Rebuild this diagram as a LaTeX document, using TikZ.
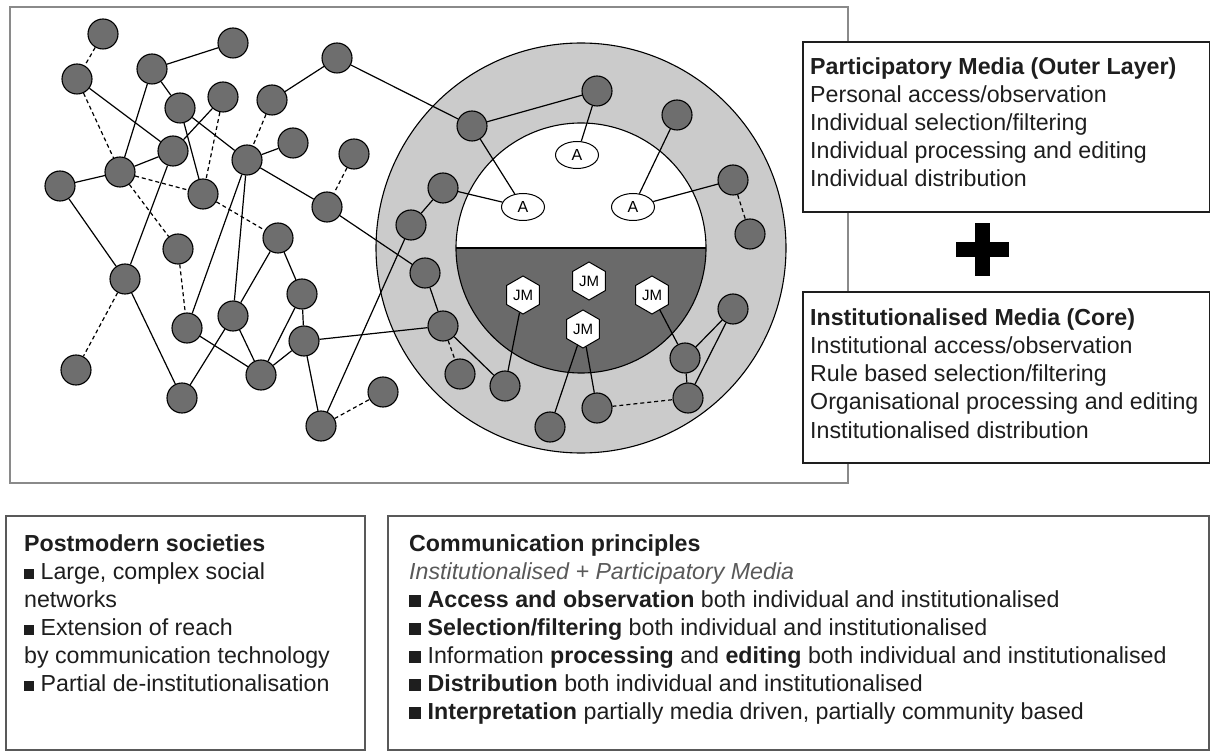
\documentclass[tikz,border=0pt]{standalone}
\usepackage{fontspec}
\setmainfont{Liberation Sans}
\usetikzlibrary{shapes.geometric}
\pgfdeclarelayer{back}
\pgfdeclarelayer{links}
\pgfsetlayers{back,links,main}

\definecolor{nodegray}{HTML}{6E6E6E}
\definecolor{ringgray}{HTML}{CBCBCB}
\definecolor{coregray}{HTML}{6A6A6A}
\definecolor{framegray}{HTML}{8A8A8A}
\definecolor{inkgray}{HTML}{1E1E1E}

\newcommand\smallbullet{\rule{10pt}{10pt}}
\newcommand\bigbullet{\rule{12pt}{12pt}}
\newcommand\boxfont{\fontsize{23.2}{28}\selectfont}

\tikzset{
  actor/.style={circle, draw=black, fill=nodegray, line width=1.1pt,
    minimum size=30pt, inner sep=0pt},
  agent/.style={ellipse, draw=black, fill=white, line width=1pt,
    minimum width=43pt, minimum height=27pt, inner sep=0pt,
    font=\fontsize{16}{16}\selectfont},
  journo/.style={regular polygon, regular polygon sides=6, shape border rotate=30,
    draw=black, fill=white, line width=1pt, minimum size=38pt, inner sep=0pt,
    font=\fontsize{15}{15}\selectfont},
  tie/.style={line width=1.2pt},
  weak/.style={line width=1.2pt, dash pattern=on 4pt off 3pt},
  infobox/.style={draw=inkgray, line width=1.6pt, fill=white, anchor=north west, inner sep=0pt},
  lowbox/.style={draw=black!65, line width=1.8pt, fill=white, anchor=north west, inner sep=0pt},
  boxtext/.style={anchor=base west, inner sep=0pt, text=inkgray},
}

\begin{document}
\begin{tikzpicture}[x=1pt, y=-1pt]
\useasboundingbox (0,0) rectangle (1210,751);

% ---------- network frame and media circle ----------
\begin{pgfonlayer}{back}
  \fill[white] (0,0) rectangle (1210,751);
  \draw[framegray, line width=2.2pt] (10,7) rectangle (848,483);
  \fill[ringgray] (581,248) circle[radius=205pt];
  \draw[black, line width=1.1pt] (581,248) circle[radius=205pt];
  \fill[white] (581,248) circle[radius=125pt];
  \fill[coregray] (456,248) arc[start angle=180, end angle=360, radius=125pt] -- cycle;
  \draw[black, line width=1.1pt] (581,248) circle[radius=125pt];
  \draw[black, line width=1.3pt] (456,248) -- (706,248);
\end{pgfonlayer}

% ---------- social network actors ----------
\node[actor] (a) at (103,34) {};
\node[actor] (b) at (77,79) {};
\node[actor] (c) at (152,69) {};
\node[actor] (d) at (233,43) {};
\node[actor] (e) at (337,58) {};
\node[actor] (f) at (180,108) {};
\node[actor] (g) at (223,97) {};
\node[actor] (h) at (272,100) {};
\node[actor] (i) at (173,151) {};
\node[actor] (j) at (293,143) {};
\node[actor] (k) at (354,154) {};
\node[actor] (l) at (120,172) {};
\node[actor] (m) at (60,186) {};
\node[actor] (n) at (247,160) {};
\node[actor] (o) at (203,194) {};
\node[actor] (p) at (327,207) {};
\node[actor] (q) at (278,238) {};
\node[actor] (r) at (178,249) {};
\node[actor] (s) at (125,279) {};
\node[actor] (t) at (302,294) {};
\node[actor] (u) at (233,316) {};
\node[actor] (v) at (187,328) {};
\node[actor] (w) at (304,341) {};
\node[actor] (x) at (261,375) {};
\node[actor] (y) at (76,370) {};
\node[actor] (z) at (182,398) {};
\node[actor] (aa) at (321,426) {};
\node[actor] (ab) at (383,392) {};

% ---------- participatory layer actors ----------
\node[actor] (c1) at (472,126) {};
\node[actor] (c2) at (597,91) {};
\node[actor] (c3) at (677,115) {};
\node[actor] (c4) at (443,188) {};
\node[actor] (c5) at (411,225) {};
\node[actor] (c6) at (425,273) {};
\node[actor] (c7) at (443,326) {};
\node[actor] (c8) at (460,374) {};
\node[actor] (c9) at (505,386) {};
\node[actor] (c10) at (550,427) {};
\node[actor] (c11) at (597,408) {};
\node[actor] (c12) at (685,358) {};
\node[actor] (c13) at (688,398) {};
\node[actor] (c14) at (733,309) {};
\node[actor] (c15) at (733,180) {};
\node[actor] (c16) at (750,234) {};

% ---------- audiences and journalists ----------
\node[agent] (A1) at (577,155) {A};
\node[agent] (A2) at (523,207) {A};
\node[agent] (A3) at (633,207) {A};
\node[journo] (JM1) at (523,295) {JM};
\node[journo] (JM2) at (589,281) {JM};
\node[journo] (JM3) at (652,295) {JM};
\node[journo] (JM4) at (583,329) {JM};

% ---------- ties ----------
\begin{pgfonlayer}{links}
  \foreach \p/\q in {b/i, c/d, c/l, c/f, f/n, f/o, g/i, h/e, j/n, n/p, p/c6, e/c1,
      l/m, l/i, i/s, m/s, n/v, n/u, q/u, q/t, t/w, t/x, u/x, u/z, v/x, s/z, x/w,
      w/c7, w/aa, aa/c5, c6/c7, c7/c9, c9/JM1, c10/JM4, c11/JM4, c12/JM3,
      c12/c13, c12/c14, c13/c14, c4/c5, c4/A2, c1/A2, c1/c2, c2/A1, c3/A3, c15/A3}
    \draw[tie] (\p) -- (\q);
  \foreach \p/\q in {a/b, b/l, g/o, h/n, k/p, l/o, l/r, o/q, r/v, s/y, aa/ab,
      c7/c8, c11/c13, c15/c16}
    \draw[weak] (\p) -- (\q);
\end{pgfonlayer}

% ---------- media layer boxes ----------
\node[infobox, minimum width=407pt, minimum height=170pt] (pbox) at (802,41) {};
\node[boxtext] (ptext) at (810,75) {\parbox[t]{395pt}{\boxfont
  \textbf{Participatory Media (Outer Layer)}\\
  Personal access/observation\\
  Individual selection/filtering\\
  Individual processing and editing\\
  Individual distribution}};

\node[infobox, minimum width=407pt, minimum height=171pt] (ibox) at (802,291) {};
\node[boxtext] (itext) at (810,326) {\parbox[t]{395pt}{\boxfont
  \textbf{Institutionalised Media (Core)}\\
  Institutional access/observation\\
  Rule based selection/filtering\\
  Organisational processing and editing\\
  Institutionalised distribution}};

% plus sign between the two boxes
\fill[black] (955.5,242.5) rectangle (1008.5,257.5);
\fill[black] (974.5,223.5) rectangle (989.5,276.5);

% ---------- lower boxes ----------
\node[lowbox, minimum width=359pt, minimum height=234pt] (sbox) at (5,515) {};
\node[boxtext] (stext) at (24,551) {\parbox[t]{340pt}{\boxfont
  \textbf{Postmodern societies}\\
  \smallbullet{} Large, complex social\\
  networks\\
  \smallbullet{} Extension of reach\\
  by communication technology\\
  \smallbullet{} Partial de-institutionalisation}};

\node[lowbox, minimum width=821pt, minimum height=234pt] (cbox) at (387,515) {};
\node[boxtext] (ctext) at (409,551) {\parbox[t]{800pt}{\boxfont
  \textbf{Communication principles}\\
  {\color{black!65}\itshape Institutionalised + Participatory Media}\\
  \bigbullet{} \textbf{Access and observation} both individual and institutionalised\\
  \bigbullet{} \textbf{Selection/filtering} both individual and institutionalised\\
  \bigbullet{} Information \textbf{processing} and \textbf{editing} both individual and institutionalised\\
  \bigbullet{} \textbf{Distribution} both individual and institutionalised\\
  \bigbullet{} \textbf{Interpretation} partially media driven, partially community based}};

\end{tikzpicture}
\end{document}
